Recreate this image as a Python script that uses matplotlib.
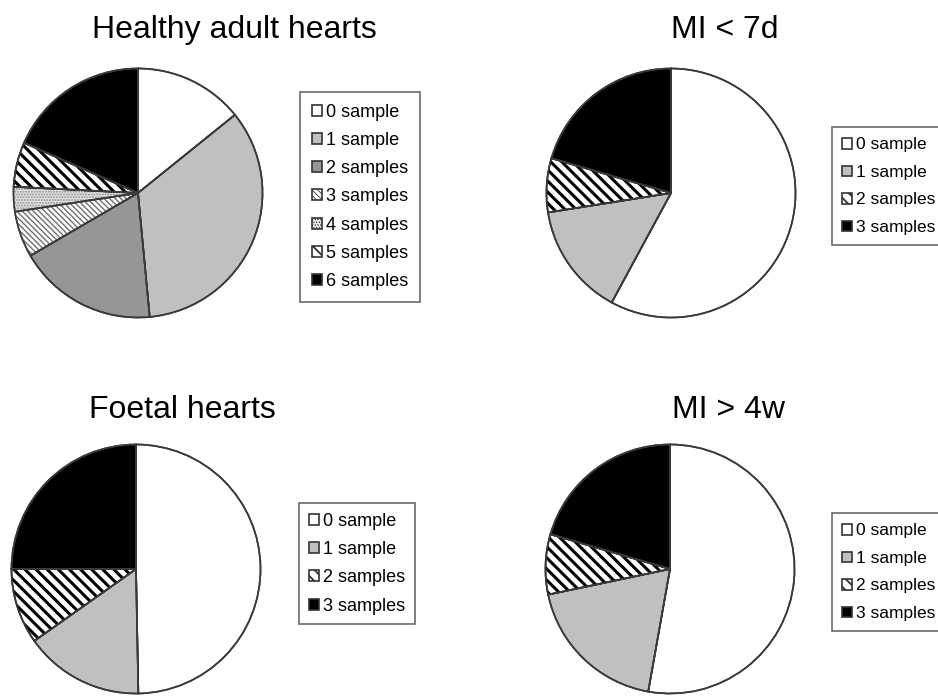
import matplotlib
matplotlib.use("Agg")
import matplotlib.pyplot as plt

plt.rcParams['font.family'] = ['Liberation Sans', 'DejaVu Sans']
plt.rcParams['hatch.linewidth'] = 2.2

W, H = 938, 696

# ---- data (percent of slices) ----
healthy_labels = ["0 sample", "1 sample", "2 samples", "3 samples",
                  "4 samples", "5 samples", "6 samples"]
healthy_values = [14.2, 34.3, 18.1, 6.0, 3.2, 5.8, 18.4]

short_labels = ["0 sample", "1 sample", "2 samples", "3 samples"]
mi7d_values = [57.9, 14.6, 7.0, 20.5]
foetal_values = [49.7, 15.5, 9.8, 25.0]
mi4w_values = [52.8, 18.9, 7.8, 20.5]

titles = ["Healthy adult hearts", "MI < 7d", "Foetal hearts", "MI > 4w"]

# ---- styles ----
healthy_style = [
    dict(fc="white", hatch=None),
    dict(fc="#c0c0c0", hatch=None),
    dict(fc="#969696", hatch=None),
    dict(fc="white", hatch="\\\\\\\\\\\\", hc="#707070", hlw=1.0),
    dict(fc="#e8e8e8", hatch="......", hc="#888888", hlw=1.0),
    dict(fc="white", hatch="\\\\\\", hc="black", hlw=2.2),
    dict(fc="black", hatch=None),
]
short_style = [
    dict(fc="white", hatch=None),
    dict(fc="#c0c0c0", hatch=None),
    dict(fc="white", hatch="\\\\\\", hc="black", hlw=2.2),
    dict(fc="black", hatch=None),
]

fig = plt.figure(figsize=(W / 100, H / 100), dpi=100)
EDGE = "#3a3a3a"


def set_hlw(p, lw):
    if hasattr(p, "set_hatch_linewidth"):
        p.set_hatch_linewidth(lw)
    else:
        p._hatch_linewidth = lw


def draw_pie(cx, cy, r, values, labels, styles, title, title_xy, leg_xy,
             lsp, bpad, lfs):
    ax = fig.add_axes([(cx - r) / W, 1 - (cy + r) / H, 2 * r / W, 2 * r / H])
    wedges, _ = ax.pie(values, startangle=90, counterclock=False, radius=1,
                       wedgeprops=dict(linewidth=1.2, edgecolor=EDGE))
    for w, st in zip(wedges, styles):
        w.set_facecolor(st["fc"])
        if st.get("hatch"):
            w.set_hatch(st["hatch"])
            w.set_edgecolor(st["hc"])
            set_hlw(w, st["hlw"])
    # outlines on top
    ax.pie(values, startangle=90, counterclock=False, radius=1,
           wedgeprops=dict(linewidth=1.2, edgecolor=EDGE, facecolor="none"))
    ax.set_xlim(-1.02, 1.02)
    ax.set_ylim(-1.02, 1.02)
    ax.axis("off")
    fig.text(title_xy[0] / W, 1 - title_xy[1] / H, title, fontsize=23,
             ha="center", va="baseline")
    leg = fig.legend(wedges, labels, loc="upper left",
                     bbox_to_anchor=(leg_xy[0] / W, 1 - leg_xy[1] / H),
                     fontsize=lfs, handlelength=0.55, handleheight=0.55,
                     handletextpad=0.25, labelspacing=lsp, borderpad=bpad,
                     borderaxespad=0, fancybox=False, frameon=True)
    leg.get_frame().set_edgecolor("#444444")
    leg.get_frame().set_linewidth(1.2)
    for p, st in zip(leg.get_patches(), styles):
        p.set_edgecolor("#333333")
        if st.get("hatch"):
            set_hlw(p, st["hlw"] * 0.6)


draw_pie(138, 193, 127, healthy_values, healthy_labels, healthy_style,
         titles[0], (234, 38), (300, 92), 0.62, 0.65, 13)
draw_pie(671, 193, 127, mi7d_values, short_labels, short_style,
         titles[1], (725, 38), (832, 127), 0.72, 0.6, 12.5)
draw_pie(136, 569, 127, foetal_values, short_labels, short_style,
         titles[2], (182, 418), (299, 503), 0.62, 0.55, 13)
draw_pie(670, 569, 127, mi4w_values, short_labels, short_style,
         titles[3], (728, 418), (832, 513), 0.72, 0.6, 12.5)

fig.savefig("out.png", dpi=100, facecolor="white")
